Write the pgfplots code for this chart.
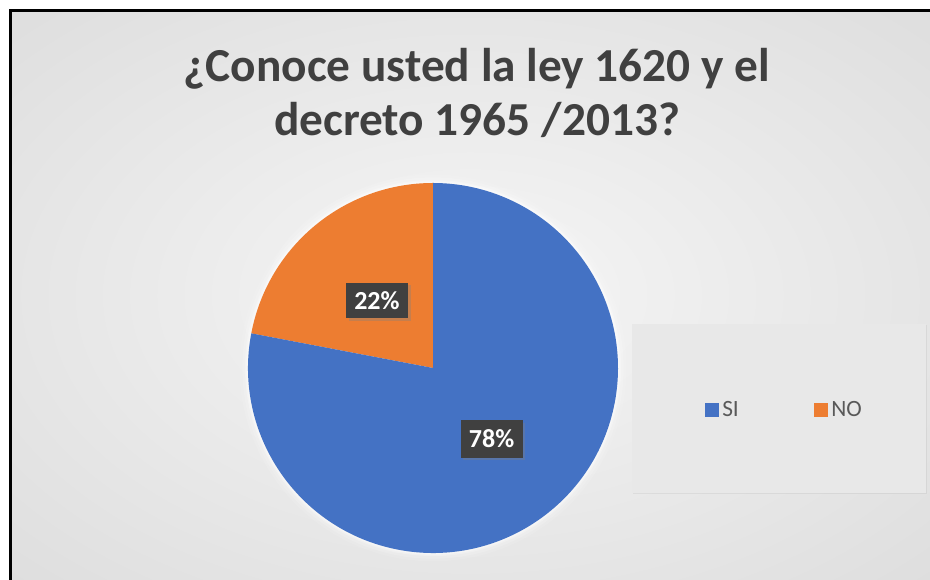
\documentclass[border=0pt]{standalone}
\usepackage{pgfplots}
\usepackage{pgfplotstable}
\pgfplotsset{compat=1.18}
\usepackage{fontspec}
\setmainfont{Carlito}
\usetikzlibrary{shadows}
\definecolor{siblue}{HTML}{4472C4}
\definecolor{noorange}{HTML}{ED7D31}
\definecolor{titlegray}{HTML}{404040}
\definecolor{lblbox}{HTML}{404040}
\definecolor{leggray}{HTML}{595959}
\definecolor{legfill}{HTML}{E8E8E8}
\definecolor{bgc0}{HTML}{F6F6F6}
\definecolor{bgc1}{HTML}{C6C6C6}
\pgfdeclareradialshading{bgshade}{\pgfpoint{0bp}{0bp}}{color(0bp)=(bgc0); color(71bp)=(bgc1); color(100bp)=(bgc1)}
\pgfplotstableread{
label value
SI 78
NO 22
}\piedata
\begin{document}
\begin{tikzpicture}
\pgfplotstablegetelem{0}{value}\of\piedata
\let\vSI\pgfplotsretval
\pgfplotstablegetelem{1}{value}\of\piedata
\let\vNO\pgfplotsretval
\pgfmathsetmacro\aSI{\vSI*3.6}
\pgfmathsetmacro\aNO{\vNO*3.6}
\pgfmathsetmacro\eNO{90+\aNO}
\pgfmathsetmacro\mNO{90+\aNO/2}
\pgfmathsetmacro\mSI{90+\aNO+\aSI/2}
\begin{axis}[
  scale only axis, width=697.5pt, height=435pt,
  xmin=0, xmax=930, ymin=0, ymax=580,
  hide axis, clip=false]
\coordinate (bbsw) at (axis cs:0,0);
\coordinate (bbne) at (axis cs:930,580);
\fill[white] (axis cs:0,0) rectangle (axis cs:930,580);
\shade[shading=bgshade] (axis cs:10,0) rectangle (axis cs:930,569.5);
\draw[black, line width=2.25pt] (axis cs:10,0) -- (axis cs:10,569.5) -- (axis cs:930,569.5);
% glow around pie
\fill[white, opacity=0.10] (axis cs:433,212) circle[radius=145pt];
\fill[white, opacity=0.15] (axis cs:433,212) circle[radius=143pt];
\fill[white, opacity=0.25] (axis cs:433,212) circle[radius=141pt];
\fill[white, opacity=0.35] (axis cs:433,212) circle[radius=140pt];
% slices
\fill[noorange] (axis cs:433,212) -- ++(90:138.75pt) arc[start angle=90, end angle=\eNO, radius=138.75pt] -- cycle;
\fill[siblue] (axis cs:433,212) -- ++(\eNO:138.75pt) arc[start angle=\eNO, end angle=450, radius=138.75pt] -- cycle;
% data labels
\node[fill=lblbox, text=white, font=\fontsize{19.5}{23}\selectfont\bfseries,
      minimum width=46.5pt, minimum height=26.5pt, inner sep=0pt,
      drop shadow={opacity=0.35, shadow xshift=2pt, shadow yshift=-2pt}]
  at ([shift={(\mNO:66pt)}]axis cs:433,212) {\vNO\%};
\node[fill=lblbox, text=white, font=\fontsize{19.5}{23}\selectfont\bfseries,
      minimum width=46.5pt, minimum height=28pt, inner sep=0pt,
      drop shadow={opacity=0.35, shadow xshift=2pt, shadow yshift=-2pt}]
  at ([shift={(\mSI:69pt)}]axis cs:433,212) {\vSI\%};
% title
\node[anchor=base, text=titlegray, font=\fontsize{35.5}{42}\selectfont\bfseries]
  at (axis cs:477,498) {¿Conoce usted la ley 1620 y el};
\node[anchor=base, text=titlegray, font=\fontsize{35.5}{42}\selectfont\bfseries]
  at (axis cs:477,444) {decreto 1965 /2013?};
% legend
\fill[legfill, drop shadow={opacity=0.12, shadow xshift=1pt, shadow yshift=-1pt}] (axis cs:632,87) rectangle (axis cs:926,256);
\fill[siblue] (axis cs:705,163) rectangle (axis cs:719,177);
\node[anchor=base west, inner sep=0pt, text=leggray, font=\fontsize{17.5}{20}\selectfont] at (axis cs:722,163) {SI};
\fill[noorange] (axis cs:814,163) rectangle (axis cs:828,177);
\node[anchor=base west, inner sep=0pt, text=leggray, font=\fontsize{17.5}{20}\selectfont] at (axis cs:831,163) {NO};
\end{axis}
\pgfresetboundingbox
\useasboundingbox (bbsw) rectangle (bbne);
\end{tikzpicture}
\end{document}
